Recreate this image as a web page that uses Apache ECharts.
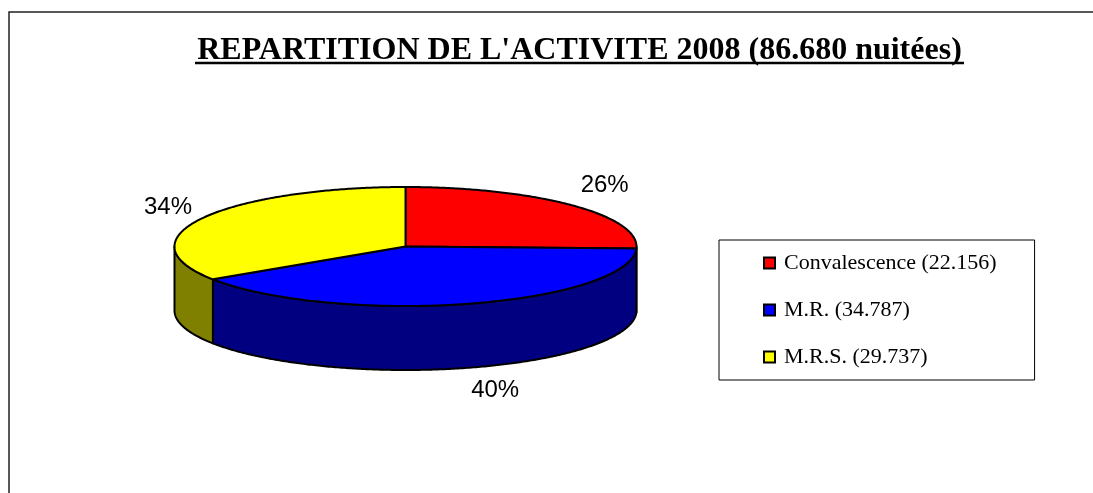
<!DOCTYPE html>
<html>
<head>
<meta charset="utf-8">
<style>
html, body { margin: 0; padding: 0; background: #fff; }
#chart { width: 1093px; height: 493px; }
</style>
<script src="https://cdn.jsdelivr.net/npm/echarts@6/dist/echarts.min.js"></script>
</head>
<body>
<div id="chart"></div>
<script>
var categories = ['Convalescence', 'M.R.', 'M.R.S.'];
var nuitees = [22156, 34787, 29737];
var tickLabels = ['22.156', '34.787', '29.737'];
var titleText = "REPARTITION DE L'ACTIVITE 2008 (86.680 nuitées)";

var topColors = ['#ff0000', '#0000ff', '#ffff00'];
var sideColors = ['#800000', '#000080', '#808000'];

// ellipse du camembert 3D
var cx = 405.5, cy = 246.5, rx = 231, ry = 59.5, depth = 64;
// decalage des etiquettes par rapport au milieu de chaque part
var labelShift = [[33, -20], [27, 87], [-34, -11]];

var total = nuitees.reduce(function (a, b) { return a + b; }, 0);

function angleAt(i) {
    var sum = 0;
    for (var k = 0; k < i; k++) sum += nuitees[k];
    return sum / total * Math.PI * 2;
}

// angle compte depuis le haut, sens horaire
function rimPoint(a, dy) {
    return [cx + rx * Math.sin(a), cy - ry * Math.cos(a) + dy];
}

function arcPoints(a0, a1, dy) {
    var pts = [];
    var n = Math.max(2, Math.ceil((a1 - a0) / 0.01));
    for (var k = 0; k <= n; k++) pts.push(rimPoint(a0 + (a1 - a0) * k / n, dy));
    return pts;
}

function makeItem(i) {
    return function () {
        var a0 = angleAt(i), a1 = angleAt(i + 1);
        var children = [];

        // paroi visible : seulement la moitie avant
        var s0 = Math.max(a0, Math.PI / 2), s1 = Math.min(a1, Math.PI * 1.5);
        if (s1 > s0) {
            var side = arcPoints(s0, s1, 0).concat(arcPoints(s0, s1, depth).reverse());
            children.push({
                type: 'polygon',
                z2: 1,
                shape: { points: side },
                style: { fill: sideColors[i], stroke: '#000', lineWidth: 2, lineJoin: 'round' }
            });
        }

        // dessus
        var face = [[cx, cy]].concat(arcPoints(a0, a1, 0));
        children.push({
            type: 'polygon',
            z2: 2,
            shape: { points: face },
            style: { fill: topColors[i], stroke: '#000', lineWidth: 2, lineJoin: 'round' }
        });

        // pourcentage
        var mid = rimPoint((a0 + a1) / 2, 0);
        children.push({
            type: 'text',
            z2: 3,
            style: {
                x: mid[0] + labelShift[i][0],
                y: mid[1] + labelShift[i][1],
                text: Math.round(nuitees[i] / total * 100) + '%',
                align: 'center',
                verticalAlign: 'middle',
                fill: '#000',
                font: '24px "Liberation Sans"'
            }
        });

        return { type: 'group', children: children };
    };
}

var series = categories.map(function (name, i) {
    return {
        name: name,
        type: 'custom',
        coordinateSystem: 'none',
        renderItem: makeItem(i),
        itemStyle: { color: topColors[i] },
        data: [[nuitees[i]]],
        silent: true,
        animation: false
    };
});

var mychart = echarts.init(document.getElementById('chart'));
var option = {
    animation: false,
    backgroundColor: '#fff',
    title: {
        text: titleText,
        left: 574.5,
        top: 30,
        textAlign: 'center',
        textStyle: {
            fontFamily: 'Liberation Serif',
            fontWeight: 'bold',
            fontSize: 32,
            color: '#000'
        }
    },
    legend: {
        orient: 'vertical',
        left: 719,
        top: 240,
        padding: [12, 38, 12, 44],
        itemGap: 25,
        itemWidth: 11,
        itemHeight: 11,
        icon: 'rect',
        backgroundColor: '#fff',
        borderColor: '#000',
        borderWidth: 1,
        data: categories,
        itemStyle: { borderColor: '#000', borderWidth: 2 },
        formatter: function (name) {
            return name + ' (' + tickLabels[categories.indexOf(name)] + ')';
        },
        textStyle: {
            fontFamily: 'Liberation Serif',
            fontSize: 22,
            color: '#000',
            padding: [0, 0, 0, 4]
        }
    },
    graphic: [
        {
            type: 'polyline',
            shape: { points: [[9, 493], [9, 12], [1093, 12]] },
            style: { stroke: '#222', lineWidth: 1.5, fill: null }
        },
        {
            type: 'line',
            shape: { x1: 195, y1: 63, x2: 964, y2: 63 },
            style: { stroke: '#000', lineWidth: 2.5 }
        }
    ],
    series: series
};
mychart.setOption(option);
</script>
</body>
</html>
